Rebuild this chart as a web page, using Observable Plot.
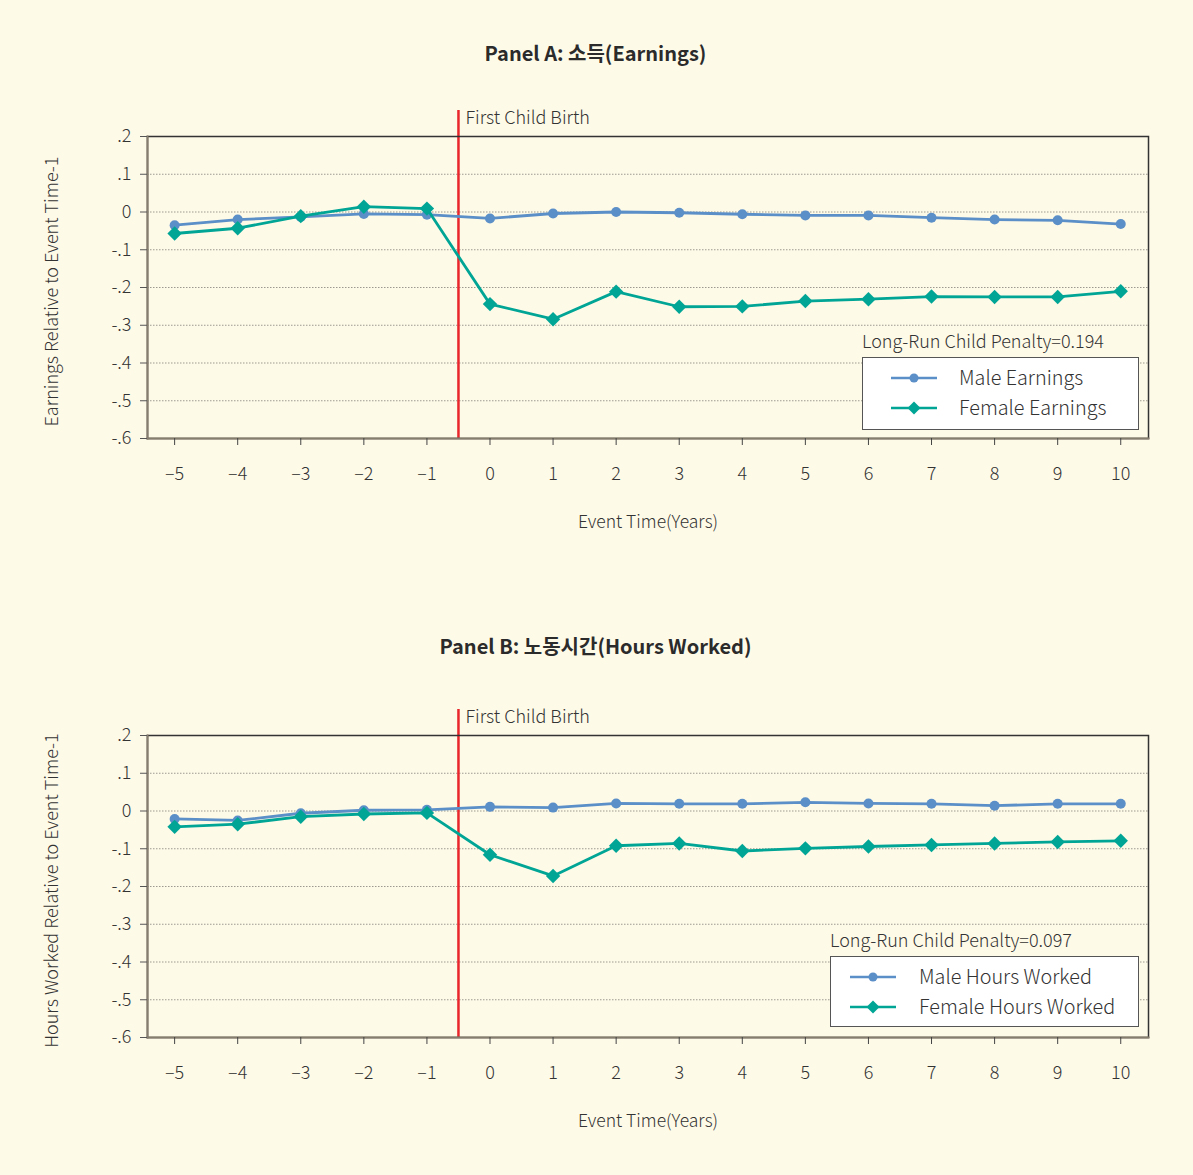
<!DOCTYPE html>
<html>
<head>
<meta charset="utf-8">
<script src="https://cdn.jsdelivr.net/npm/d3@7"></script>
<script src="https://cdn.jsdelivr.net/npm/@observablehq/plot@0.6"></script>
<style>
  html, body { margin: 0; padding: 0; background: #fefae8; }
  #root { position: relative; width: 1193px; height: 1175px; background: #fefae8; font-family: "Noto Sans CJK KR", "Noto Sans", sans-serif; color: #333; overflow: hidden; }
  .title { position: absolute; left: 0; width: 1193px; text-align: center; font-weight: 700; font-size: 20px; color: #2b2b2b; transform: translateX(-1px); }
  .panel { position: absolute; left: 0; }
  .panel svg text { font-weight: 300; }
  .penalty { position: absolute; font-size: 18px; color: #333; white-space: nowrap; font-weight: 300; }
  .legend { position: absolute; background: #ffffff; border: 1.5px solid #555; box-sizing: border-box; }
  .legend .row { position: absolute; display: flex; align-items: center; font-size: 19.8px; color: #333; white-space: nowrap; font-weight: 300; }
  .legend svg { display: block; }
</style>
</head>
<body>
<div id="root"></div>
<script>
// ---------- data ----------
const eventTime = [-5, -4, -3, -2, -1, 0, 1, 2, 3, 4, 5, 6, 7, 8, 9, 10];
const maleEarnings   = [-0.035, -0.020, -0.013, -0.005, -0.007, -0.017, -0.004, 0.000, -0.002, -0.006, -0.009, -0.009, -0.015, -0.020, -0.022, -0.032];
const femaleEarnings = [-0.057, -0.043, -0.011, 0.014, 0.009, -0.244, -0.284, -0.211, -0.251, -0.250, -0.236, -0.231, -0.224, -0.225, -0.225, -0.210];
const maleHours      = [-0.021, -0.025, -0.006, 0.002, 0.003, 0.011, 0.009, 0.020, 0.019, 0.019, 0.023, 0.020, 0.019, 0.014, 0.019, 0.019];
const femaleHours    = [-0.042, -0.035, -0.015, -0.008, -0.005, -0.116, -0.172, -0.092, -0.086, -0.106, -0.099, -0.094, -0.090, -0.086, -0.082, -0.079];
const yTicks = [0.2, 0.1, 0, -0.1, -0.2, -0.3, -0.4, -0.5, -0.6];
const gridTicks = [0.1, 0, -0.1, -0.2, -0.3, -0.4, -0.5];
const birthTime = -0.5;
const birthLabel = "First Child Birth";
const xLabel = "Event Time(Years)";
const panels = [
  { title: "Panel A: 소득(Earnings)", yLabel: "Earnings Relative to Event Time-1", male: maleEarnings, female: femaleEarnings,
    maleName: "Male Earnings", femaleName: "Female Earnings", penalty: "Long-Run Child Penalty=0.194" },
  { title: "Panel B: 노동시간(Hours Worked)", yLabel: "Hours Worked Relative to Event Time-1", male: maleHours, female: femaleHours,
    maleName: "Male Hours Worked", femaleName: "Female Hours Worked", penalty: "Long-Run Child Penalty=0.097" }
];

// ---------- styles / layout ----------
const MALE = "#5b8fc7", FEMALE = "#00a596", RED = "#e8262c";
const FONT = "'Noto Sans CJK KR', 'Noto Sans', sans-serif";
const layout = [
  { titleTop: 38, svgTop: 90, penalty: [862, 327], legend: [862, 357, 277, 73], sample: 28, textX: 96 },
  { titleTop: 631, svgTop: 689, penalty: [830, 926], legend: [830, 956, 309, 71], sample: 19, textX: 88 }
];

const yFmt = d => d === 0 ? "0" : (d < 0 ? "-" : "") + String(Math.abs(d)).replace(/^0/, "");
const xFmt = d => d < 0 ? "–" + (-d) : String(d);

function makePanel(p) {
  const data = eventTime.map((t, i) => ({ t, v: p.male[i], s: "m" }))
    .concat(eventTime.map((t, i) => ({ t, v: p.female[i], s: "f" })));
  const male = data.filter(d => d.s === "m"), female = data.filter(d => d.s === "f");
  return Plot.plot({
    width: 1193, height: 470,
    marginLeft: 147, marginRight: 45, marginTop: 46, marginBottom: 122,
    x: { domain: [-5.43, 10.44], label: null },
    y: { domain: [-0.6, 0.2], label: null },
    style: { fontFamily: FONT, fontSize: "18px", background: "transparent", color: "#333", overflow: "visible" },
    marks: [
      Plot.gridY(gridTicks, { stroke: "#9c9a90", strokeOpacity: 1, strokeDasharray: "1.5,1.5", strokeWidth: 1 }),
      Plot.ruleX([birthTime], { stroke: RED, strokeWidth: 2.5, insetTop: -26 }),
      Plot.text([birthLabel], { x: () => birthTime, text: d => d, frameAnchor: "top", dy: -18, dx: 7, textAnchor: "start", lineAnchor: "middle", fontSize: 18, fill: "#333" }),
      Plot.frame({ stroke: "#333", strokeWidth: 1.5 }),
      Plot.frame({ anchor: "left", stroke: "#857d6d", strokeWidth: 2 }),
      Plot.frame({ anchor: "bottom", stroke: "#857d6d", strokeWidth: 2 }),
      Plot.axisX(eventTime, { tickSize: 7, tickPadding: 22, tickFormat: xFmt, fontSize: 18, stroke: "#444", fill: "#333", label: null }),
      Plot.axisY(yTicks, { tickSize: 7, tickPadding: 9, tickFormat: yFmt, fontSize: 18, stroke: "#555", fill: "#333", label: null }),
      Plot.text([xLabel], { text: d => d, frameAnchor: "bottom", dy: 84, lineAnchor: "middle", fontSize: 17.5, fill: "#333" }),
      Plot.text([p.yLabel], { text: d => d, frameAnchor: "left", dx: -95, dy: 4, rotate: -90, textAnchor: "middle", lineAnchor: "middle", fontSize: 18, fill: "#333" }),
      Plot.line(male, { x: "t", y: "v", stroke: MALE, strokeWidth: 2.8 }),
      Plot.dot(male, { x: "t", y: "v", fill: MALE, r: 5, symbol: "circle" }),
      Plot.line(female, { x: "t", y: "v", stroke: FEMALE, strokeWidth: 2.8 }),
      Plot.dot(female, { x: "t", y: "v", fill: FEMALE, r: 6.5, symbol: "diamond2" })
    ]
  });
}

function sampleSvg(color, symbol) {
  const w = 46, h = 14;
  const mark = symbol === "circle"
    ? `<circle cx="${w/2}" cy="${h/2}" r="4.5" fill="${color}"/>`
    : `<path d="M${w/2},${h/2-6.5}L${w/2+6.5},${h/2}L${w/2},${h/2+6.5}L${w/2-6.5},${h/2}Z" fill="${color}"/>`;
  return `<svg width="${w}" height="${h}"><line x1="0" y1="${h/2}" x2="${w}" y2="${h/2}" stroke="${color}" stroke-width="2.5"/>${mark}</svg>`;
}

const root = document.getElementById("root");
panels.forEach((p, i) => {
  const L = layout[i];
  const t = document.createElement("div");
  t.className = "title"; t.style.top = L.titleTop + "px"; t.textContent = p.title;
  root.appendChild(t);

  const wrap = document.createElement("div");
  wrap.className = "panel"; wrap.style.top = L.svgTop + "px";
  wrap.appendChild(makePanel(p));
  root.appendChild(wrap);

  const pen = document.createElement("div");
  pen.className = "penalty"; pen.style.left = L.penalty[0] + "px"; pen.style.top = L.penalty[1] + "px";
  pen.textContent = p.penalty;
  root.appendChild(pen);

  const lg = document.createElement("div");
  lg.className = "legend";
  Object.assign(lg.style, { left: L.legend[0] + "px", top: L.legend[1] + "px", width: L.legend[2] + "px", height: L.legend[3] + "px" });
  [[p.maleName, MALE, "circle", 6], [p.femaleName, FEMALE, "diamond", 36]].forEach(([name, c, s, top]) => {
    const r = document.createElement("div");
    r.className = "row"; r.style.left = L.sample + "px"; r.style.top = top + "px"; r.style.height = "28px";
    r.innerHTML = sampleSvg(c, s) + `<span style="position:absolute;left:${L.textX - L.sample}px;top:-2px">${name}</span>`;
    lg.appendChild(r);
  });
  root.appendChild(lg);
});
</script>
</body>
</html>
